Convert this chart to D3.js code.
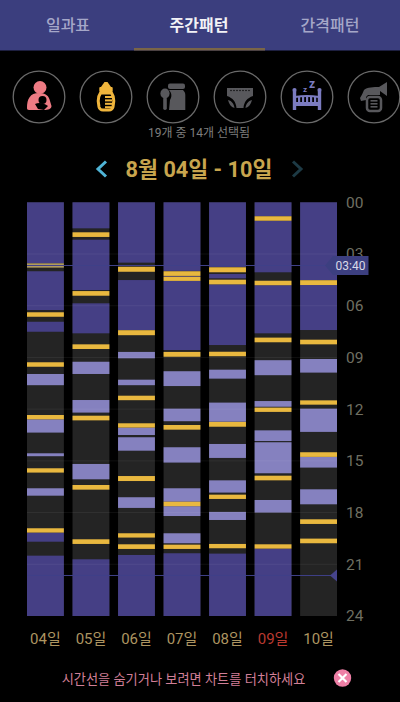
<!DOCTYPE html>
<html><head><meta charset="utf-8">
<script src="https://cdn.jsdelivr.net/npm/d3@7/dist/d3.min.js"></script>
<style>
html,body{margin:0;padding:0;background:#000;overflow:hidden}
svg{display:block}
text{font-family:Roboto,"Noto Sans CJK KR",sans-serif}
</style></head><body>
<svg id="c" width="400" height="702"></svg>
<script>
const tabs = ["일과표","주간패턴","간격패턴"];
const days = ["04일","05일","06일","07일","08일","09일","10일"];
const hourTicks = [0,3,6,9,12,15,18,21,24];
const markerHours = [3.667, 21.65];
const markerLabel = "03:40";
const nightSleep = [
 [[0,3.54],[4.00,6.25],[6.93,7.51],[19.16,19.69],[20.50,24]],
 [[0,1.51],[2.17,5.09],[5.86,7.60],[20.71,24]],
 [[0,3.50],[4.51,7.41],[20.46,24]],
 [[0,3.98],[4.27,4.32],[4.56,8.57],[20.36,24]],
 [[0,3.75],[4.16,4.41],[4.76,8.28],[20.38,24]],
 [[0,0.81],[1.07,4.06],[4.81,7.60],[20.09,24]],
 [[0,4.52],[4.80,7.41]]
];
const napSleep = [
 [[9.96,10.61],[12.59,13.36],[14.56,14.73],[16.59,17.02]],
 [[9.25,9.96],[11.47,12.20],[15.18,16.07]],
 [[8.68,9.05],[10.29,10.61],[13.07,13.50],[13.63,14.41],[17.11,17.73]],
 [[9.80,10.66],[11.97,12.70],[14.21,15.10],[16.59,17.37],[17.63,18.20],[19.20,19.78]],
 [[9.71,10.23],[11.62,12.73],[14.02,14.83],[16.13,16.84],[17.96,18.43]],
 [[9.16,10.03],[11.53,11.86],[13.23,13.85],[13.92,15.72],[17.27,18.00]],
 [[9.09,9.88],[11.97,13.32],[14.77,15.39],[16.65,17.52]]
];
const feeds = [
 [[6.38,6.64],[9.28,9.54],[12.34,12.59],[15.43,15.68],[18.91,19.16]],
 [[1.74,2.01],[5.15,5.42],[8.24,8.51],[12.38,12.65],[16.40,16.67],[19.55,19.82]],
 [[3.74,4.03],[7.42,7.71],[11.22,11.48],[12.82,13.07],[15.88,16.17],[19.20,19.45],[19.84,20.11]],
 [[4.00,4.27],[4.32,4.56],[8.68,8.96],[12.92,13.19],[17.37,17.63],[19.86,20.11]],
 [[3.77,4.06],[4.49,4.76],[8.67,8.93],[12.74,13.02],[16.96,17.21],[19.82,20.07]],
 [[0.81,1.07],[4.55,4.81],[7.85,8.12],[11.91,12.16],[15.86,16.13],[19.84,20.09]],
 [[4.52,4.80],[7.97,8.24],[11.49,11.74],[14.50,14.77],[18.39,18.66],[19.51,19.78]]
];
const fadedFeeds = [[[3.54,3.79]],[],[],[],[],[],[]];

const svg = d3.select("#c");
const FONT_KR = 'Roboto,"Noto Sans CJK KR",sans-serif';

// header
svg.append("rect").attr("width",400).attr("height",50.5).attr("fill","#3b3e7e");
svg.append("rect").attr("x",134).attr("y",48).attr("width",131).attr("height",2.5).attr("fill","#7a6547");
const tabX = d3.scalePoint().domain(tabs).range([68,330]);
svg.selectAll(".tab").data(tabs).join("text").attr("class","tab")
  .attr("x",d=>tabX(d)).attr("y",31).attr("text-anchor","middle")
  .attr("font-size",16).attr("font-weight",d=>d===tabs[1]?700:500)
  .attr("fill",d=>d===tabs[1]?"#f2f2f6":"#a5a7c8").text(d=>d);

// icon circles
const iconX = [39,106,173,240,307,374];
svg.selectAll(".ic").data(iconX).join("circle").attr("class","ic")
  .attr("cx",d=>d).attr("cy",97).attr("r",25.8).attr("fill","none").attr("stroke","#6a6a6a").attr("stroke-width",1.3);
function icon(i){return svg.append("g").attr("transform",`translate(${iconX[i]},97)`);}
// mother & baby
let g=icon(0), c="#ee7b84";
g.append("circle").attr("cx",1).attr("cy",-9.5).attr("r",6.5).attr("fill",c);
g.append("path").attr("fill",c).attr("d","M-12 11 C-12 2 -9 -4 0 -4 C7 -4 10 -1 11 4 L12.5 9 C12.5 12 9 13 5 13 L-10 13 C-11.5 13 -12 12 -12 11Z");
g.append("circle").attr("cx",3.5).attr("cy",3).attr("r",4).attr("fill","#000");
g.append("path").attr("fill","#000").attr("d","M-4 7 C0 5 5 6 9 9 L5 13 L-1 12Z");
// bottle
g=icon(1); c="#f0b53c";
g.append("path").attr("fill",c).attr("d","M-1.5 -15 L1.5 -15 L5 -10 L-5 -10Z");
g.append("rect").attr("x",-6.7).attr("y",-10).attr("width",13.4).attr("height",5).attr("rx",1).attr("fill",c);
g.append("path").attr("fill","none").attr("stroke",c).attr("stroke-width",3).attr("d","M-5.5 -4 L5.5 -4 C7 -2 7.8 1 7.8 4 L7 10 C6.5 12 5 13 3 13 L-3 13 C-5 13 -6.5 12 -7 10 L-7.8 4 C-7.8 1 -7 -2 -5.5 -4Z");
g.selectAll("r1").data([0,1,2,3]).join("rect").attr("x",-1).attr("y",d=>-1+d*3.4).attr("width",7).attr("height",2).attr("fill",c);
// food
g=icon(2); c="#58585c";
g.append("rect").attr("x",-5).attr("y",-13.5).attr("width",17).attr("height",5.5).attr("rx",2).attr("fill",c);
g.append("path").attr("fill",c).attr("d","M-4 -7 L10 -7 C11.5 -5.5 12.3 -4 12.3 -2 L12.3 13 L-4 13 L-3 3 C-1 0 -1 -4 -4 -7Z");
g.append("ellipse").attr("cx",-8).attr("cy",-3.5).attr("rx",4.6).attr("ry",5).attr("fill",c);
g.append("rect").attr("x",-9.8).attr("y",0).attr("width",3.6).attr("height",13).attr("rx",1.7).attr("fill",c);
// diaper
g=icon(3); c="#58585c";
g.append("path").attr("fill",c).attr("d","M-13 -9 L13 -9 L13 -1 C7 1 4 5 3.5 11 L-3.5 11 C-4 5 -7 1 -13 -1Z");
g.selectAll("d1").data([-9,-6,-3,0,3,6,9]).join("circle").attr("cx",d=>d).attr("cy",-6.5).attr("r",.7).attr("fill","#000");
g.append("path").attr("fill",c).attr("d","M-12 3 C-8 4 -6 7 -5.5 11 C-9 10 -11 7 -12 3Z M12 3 C8 4 6 7 5.5 11 C9 10 11 7 12 3Z");
// crib
g=icon(4); c="#7b7bc0";
g.append("path").attr("fill","none").attr("stroke",c).attr("stroke-width",3.4).attr("d","M-12.5 -6 L-12.5 13 M12.5 -6 L12.5 13");
g.append("rect").attr("x",-12).attr("y",5).attr("width",24).attr("height",4).attr("fill",c);
g.append("path").attr("fill","none").attr("stroke",c).attr("stroke-width",2).attr("d","M-12 0 Q0 -2 12 0");
g.selectAll("c1").data([-8,-4,0,4,8]).join("rect").attr("x",d=>d-1).attr("y",-1).attr("width",2.2).attr("height",7).attr("fill",c);
g.selectAll("c2").data([-12.5,12.5]).join("circle").attr("cx",d=>d).attr("cy",-7).attr("r",2.1).attr("fill",c);
g.append("text").attr("x",-2).attr("y",-5).attr("text-anchor","middle").attr("font-size",8).attr("font-weight",700).attr("fill",c).text("z");
g.append("text").attr("x",5).attr("y",-9).attr("text-anchor","middle").attr("font-size",12).attr("font-weight",700).attr("fill",c).text("z");
// pump
g=icon(5); c="#58585c";
g.append("path").attr("fill",c).attr("d","M13 -15 L13 -1 L6 -6 L6 -2 L-6 -2 L-8 0 L-8 3 L-13 4 L-14 1 C-12 -2 -11 -5 -10 -7 C-7 -10 0 -10 5 -10Z");
g.append("rect").attr("x",-7).attr("y",0).attr("width",14).attr("height",14).attr("rx",3).attr("fill","none").attr("stroke",c).attr("stroke-width",2.5);
g.selectAll("p1").data([0,1,2]).join("rect").attr("x",-3.5).attr("y",d=>3+d*3).attr("width",7).attr("height",1.6).attr("fill",c);

svg.append("text").attr("x",199).attr("y",137).attr("text-anchor","middle").attr("font-size",12).attr("fill","#7e7e7e").text("19개 중 14개 선택됨");
svg.append("text").attr("x",199).attr("y",176.5).attr("text-anchor","middle").attr("font-size",21.7).attr("font-weight",700).attr("fill","#c8a54e").text("8월 04일 - 10일");
svg.append("path").attr("d","M106 161.5 L98 169 L106 176.5").attr("fill","none").attr("stroke","#4fb4d6").attr("stroke-width",3);
svg.append("path").attr("d","M293 161.5 L301 169 L293 176.5").attr("fill","none").attr("stroke","#1d3a45").attr("stroke-width",3);

// chart
const x = d3.scaleBand().domain(days).range([27,337]).paddingInner(0.19);
const y = d3.scaleLinear().domain([0,24]).range([202.3,616]);
const chart = svg.append("g");
chart.selectAll(".col").data(days).join("rect").attr("class","col")
  .attr("x",d=>x(d)).attr("y",y(0)).attr("width",x.bandwidth()).attr("height",y(24)-y(0)).attr("fill","#242424");
function band(series,color){
  chart.append("g").selectAll("g").data(series).join("g")
    .attr("transform",(d,i)=>`translate(${x(days[i])},0)`)
    .selectAll("rect").data(d=>d).join("rect")
    .attr("y",d=>y(d[0])).attr("height",d=>y(d[1])-y(d[0])).attr("width",x.bandwidth()).attr("fill",color);
}
band(nightSleep,"#453f85");
band(napSleep,"#8581bf");
band(feeds,"#e9b83f");
band(fadedFeeds,"#b09a5e");

// grid
chart.selectAll(".grid").data(hourTicks.slice(1,-1)).join("line").attr("class","grid")
  .attr("x1",27).attr("x2",337).attr("y1",d=>y(d)).attr("y2",d=>y(d))
  .attr("stroke","#fff").attr("stroke-opacity",.06).attr("stroke-width",1);
chart.selectAll(".mark").data(markerHours).join("line").attr("class","mark")
  .attr("x1",27).attr("x2",337).attr("y1",d=>y(d)).attr("y2",d=>y(d))
  .attr("stroke","#3f4088").attr("stroke-width",1);

// axes
const yAxis = d3.axisRight(y).tickValues(hourTicks).tickSize(0).tickPadding(0).tickFormat(d3.format("02"));
const ya = svg.append("g").attr("transform","translate(346,0)").call(yAxis);
ya.select(".domain").remove();
ya.selectAll("text").attr("font-size",15.5).attr("font-family",FONT_KR).attr("fill","#6f6f62");
const xAxis = d3.axisBottom(x).tickSize(0).tickPadding(0);
const xa = svg.append("g").attr("transform","translate(0,633.5)").call(xAxis);
xa.select(".domain").remove();
xa.selectAll("text").attr("font-size",15).attr("font-family",FONT_KR).attr("fill",d=>d==="09일"?"#bb3a30":"#ad9560");

// marker tags
svg.append("path").attr("fill","#3c3f80").attr("d",`M325 ${y(markerHours[0])} L333 256 L368.5 256 L368.5 275 L333 275Z`);
svg.append("text").attr("x",350.5).attr("y",y(markerHours[0])+4.3).attr("text-anchor","middle").attr("font-size",12).attr("fill","#d9d9e8").text(markerLabel);
svg.append("path").attr("fill","#46448c").attr("d",`M330 ${y(markerHours[1])} L337 ${y(markerHours[1])-6} L337 ${y(markerHours[1])+6}Z`);

// footer
svg.append("text").attr("x",183.5).attr("y",684).attr("text-anchor","middle").attr("font-size",13.2).attr("fill","#d17f97").text("시간선을 숨기거나 보려면 차트를 터치하세요");
svg.append("circle").attr("cx",342.5).attr("cy",678).attr("r",8.7).attr("fill","#ee7fa6");
svg.append("path").attr("d","M338.5 674 L346.5 682 M346.5 674 L338.5 682").attr("stroke","#fff").attr("stroke-width",2.2);
</script>
</body></html>
